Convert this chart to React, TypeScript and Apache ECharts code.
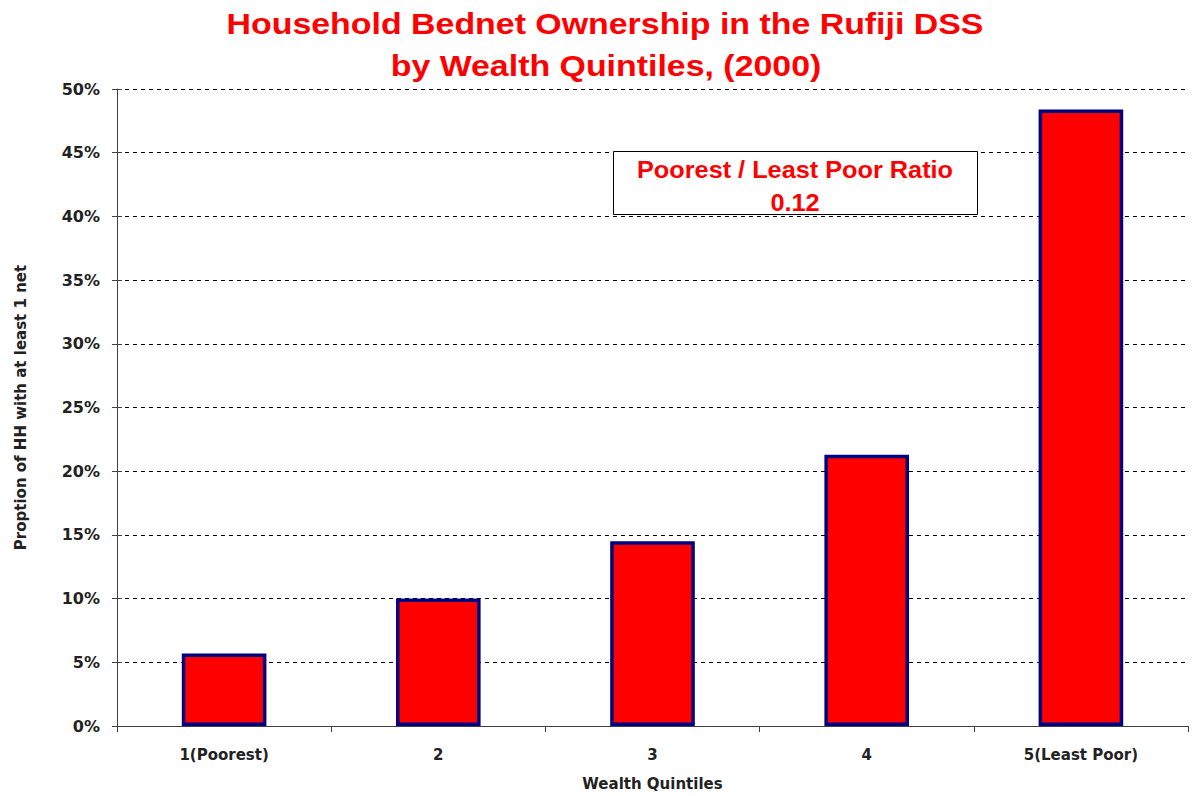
import React, { useEffect, useRef } from "react";
import * as echarts from "echarts";

const categories = ["1(Poorest)", "2", "3", "4", "5(Least Poor)"];
const ownership = [5.7, 10.0, 14.5, 21.3, 48.4];
const titleLines = ["Household Bednet Ownership in the Rufiji DSS", "by Wealth Quintiles, (2000)"];
const ratioLines = ["Poorest / Least Poor Ratio", "0.12"];

export default function App() {
  const ref = useRef<HTMLDivElement>(null);
  useEffect(() => {
    document.body.style.margin = "0";
    const chart = echarts.init(ref.current!, null, { renderer: "svg" });
    const labelFont = { fontFamily: "DejaVu Sans", fontWeight: "bold" as const, color: "#222" };
    const redText = (text: string, x: number, y: number, size: number, sx: number, z = 101) => ({
      type: "text",
      x,
      y,
      scaleX: sx,
      z,
      style: {
        text,
        fill: "#ff0000",
        font: `bold ${size}px 'Liberation Sans', Arial`,
        textAlign: "center",
        textVerticalAlign: "middle",
      },
    });
    chart.setOption({
      animation: false,
      backgroundColor: "#fff",
      grid: { left: 117, right: 6, top: 89, bottom: 70 },
      graphic: [
        redText(titleLines[0], 605, 24, 30, 1.13),
        redText(titleLines[1], 606, 66, 30, 1.13),
        {
          type: "rect",
          shape: { x: 613.5, y: 151.5, width: 364, height: 63 },
          style: { fill: "#fff", stroke: "#000", lineWidth: 1 },
          z: 100,
        },
        redText(ratioLines[0], 795, 170, 23, 1.1),
        redText(ratioLines[1], 795, 203, 23, 1.1),
      ],
      xAxis: {
        type: "category",
        data: categories,
        name: "Wealth Quintiles",
        nameLocation: "middle",
        nameGap: 50,
        nameTextStyle: { ...labelFont, fontSize: 15 },
        axisLine: { lineStyle: { color: "#404040", width: 1 } },
        axisTick: { show: true, length: 6, lineStyle: { color: "#404040" } },
        axisLabel: { ...labelFont, fontSize: 15, margin: 21 },
      },
      yAxis: [
        {
          type: "value",
          min: 0,
          max: 50,
          interval: 5,
          name: "Proption of HH with at least 1 net",
          nameLocation: "middle",
          nameGap: 89,
          nameTextStyle: { ...labelFont, fontSize: 15 },
          axisLine: { show: true, lineStyle: { color: "#404040", width: 1 } },
          axisTick: { show: true, length: 5, lineStyle: { color: "#404040" } },
          axisLabel: { ...labelFont, fontSize: 16, margin: 17, formatter: "{value}%" },
          splitLine: { show: true, lineStyle: { color: "#000", type: [4, 4], width: 1 } },
        },
        {
          type: "value",
          position: "left",
          min: 0,
          max: 50,
          interval: 5,
          axisLine: { show: false },
          axisTick: { show: true, inside: true, length: 5, lineStyle: { color: "#404040" } },
          axisLabel: { show: false },
          splitLine: { show: false },
        },
      ],
      series: [
        {
          type: "bar",
          data: ownership,
          barWidth: "39.5%",
          itemStyle: { color: "#ff0000", borderColor: "#000080", borderWidth: 3.5 },
        },
      ],
    });
    return () => chart.dispose();
  }, []);
  return <div ref={ref} style={{ width: 1194, height: 796 }} />;
}
